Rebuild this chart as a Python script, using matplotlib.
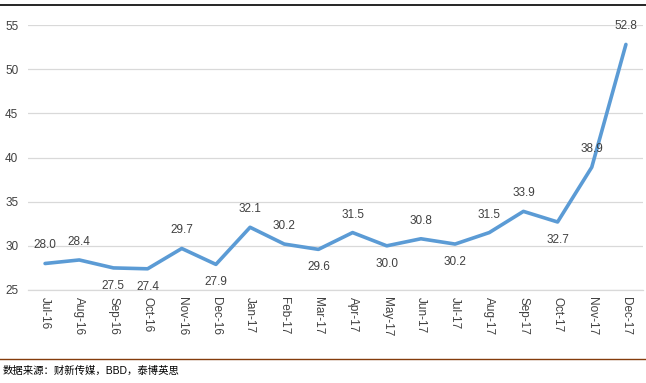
import matplotlib
matplotlib.use("Agg")
import matplotlib.pyplot as plt
from matplotlib.lines import Line2D

plt.rcParams['font.family'] = ['Liberation Sans', 'Noto Sans CJK SC', 'DejaVu Sans']

months = ["Jul-16", "Aug-16", "Sep-16", "Oct-16", "Nov-16", "Dec-16",
          "Jan-17", "Feb-17", "Mar-17", "Apr-17", "May-17", "Jun-17",
          "Jul-17", "Aug-17", "Sep-17", "Oct-17", "Nov-17", "Dec-17"]
values = [28.0, 28.4, 27.5, 27.4, 29.7, 27.9, 32.1, 30.2, 29.6, 31.5,
          30.0, 30.8, 30.2, 31.5, 33.9, 32.7, 38.9, 52.8]
label_above = [True, True, False, False, True, False, True, True, False, True,
               False, True, False, True, True, False, True, True]
yticks = [25, 30, 35, 40, 45, 50, 55]
source = "数据来源：财新传媒，BBD，泰博英思"

W, H = 646, 383
fig = plt.figure(figsize=(W / 100, H / 100), dpi=100)
ax = fig.add_axes([28 / W, 1 - 290 / H, (643 - 28) / W, (290 - 25) / H])

x = list(range(len(months)))
ax.plot(x, values, color="#5B9BD5", lw=2.6, solid_joinstyle="round", solid_capstyle="round")
ax.set_xlim(-0.5, len(months) - 0.5)
ax.set_ylim(25, 55)
ax.set_yticks(yticks)
ax.set_xticks(x)
ax.set_xticklabels(months, rotation=270, fontsize=8.5, color="#404040")
ax.tick_params(axis="x", length=0, pad=5)
ax.tick_params(axis="y", length=0, pad=7, labelsize=8.5, labelcolor="#404040")
ax.grid(axis="y", color="#D9D9D9", lw=0.9)
ax.set_axisbelow(True)
for s in ["top", "right", "left"]:
    ax.spines[s].set_visible(False)
ax.spines["bottom"].set_color("#D9D9D9")
ax.spines["bottom"].set_linewidth(0.9)

for xi, v, up in zip(x, values, label_above):
    ax.annotate(f"{v:.1f}", (xi, v), xytext=(0, 13 if up else -13),
                textcoords="offset points", ha="center", va="center",
                fontsize=8.5, color="#404040")

fig.add_artist(Line2D([0, 1], [1 - 5 / H, 1 - 5 / H], color="black", lw=1.2,
                      transform=fig.transFigure))
fig.add_artist(Line2D([0, 1], [1 - 359 / H, 1 - 359 / H], color="#843C0C", lw=1.0,
                      transform=fig.transFigure))
fig.text(3 / W, 1 - 371 / H, source, fontsize=7.5, va="center", ha="left", color="black")

fig.savefig("out.png", dpi=100)
